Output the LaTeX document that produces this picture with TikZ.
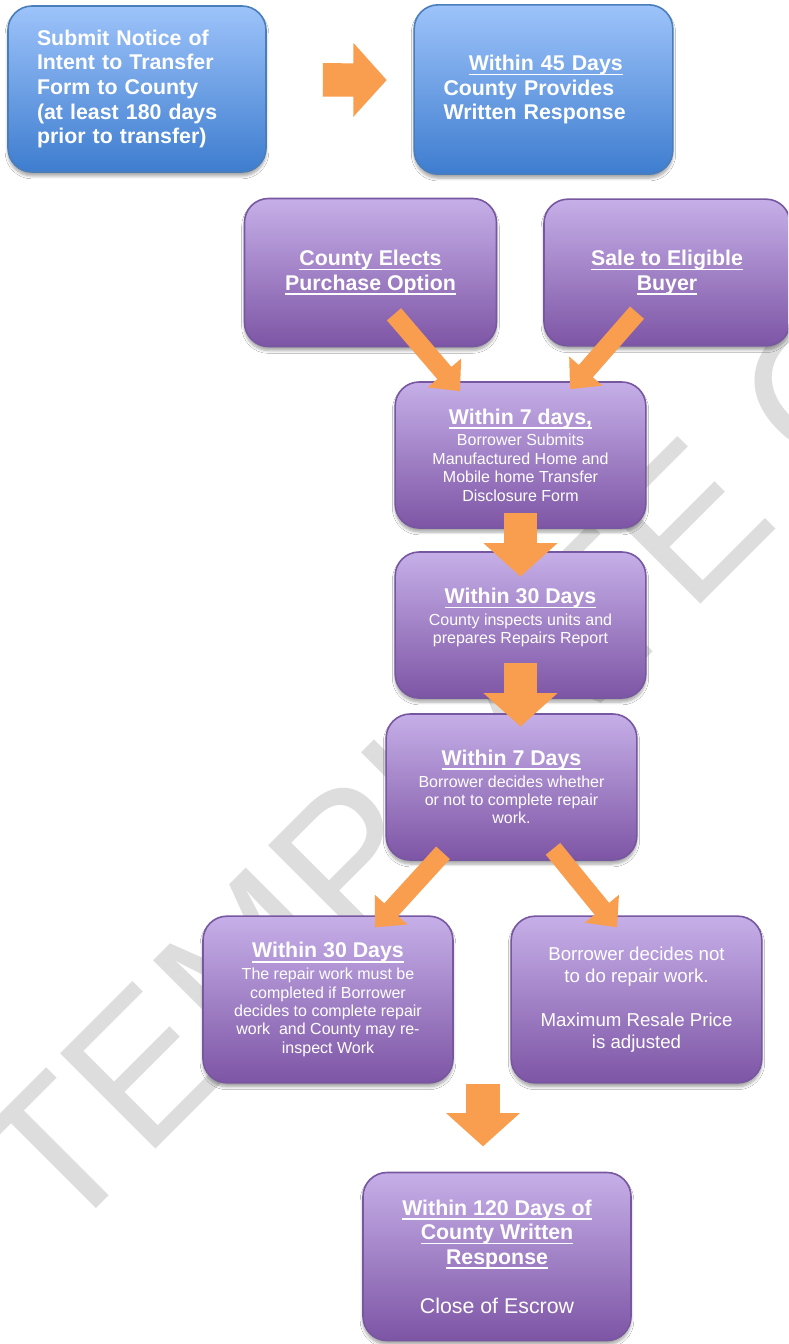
\documentclass[tikz,border=0pt]{standalone}
\usepackage{fontspec}
\setmainfont{Liberation Sans}
\usetikzlibrary{arrows.meta,shadows.blur}

\definecolor{blauHell}{HTML}{9DC3FA}
\definecolor{blauDunkel}{HTML}{3E7DCF}
\definecolor{blauRand}{HTML}{4A7EBB}
\definecolor{lilaHell}{HTML}{C6AFE8}
\definecolor{lilaDunkel}{HTML}{7D55A5}
\definecolor{lilaRand}{HTML}{7757A0}
\definecolor{orangePf}{HTML}{F99D4E}
\definecolor{wasserz}{HTML}{DDDDDD}

\newlength{\untbreite}
\newcommand{\unt}[1]{\settowidth{\untbreite}{#1}\rlap{\rule[-3.6pt]{\untbreite}{1.3pt}}#1}

\newcommand{\kopf}{\fontsize{16}{18.4}\selectfont\bfseries}
\newcommand{\klein}{\fontsize{12}{13.8}\selectfont}
\newcommand{\mittel}{\fontsize{14}{16.5}\selectfont}

\begin{document}
\begin{tikzpicture}[x=0.75pt, y=-0.75pt,
  kasten/.style={rounded corners=18pt, line width=1.2pt, text=white,
    blur shadow={shadow xshift=0pt, shadow yshift=-3pt, shadow opacity=35, shadow blur steps=6}},
  blau/.style={kasten, draw=blauRand, top color=blauHell, bottom color=blauDunkel,
    align=left, text width=150pt, inner xsep=0pt, font=\kopf},
  lila/.style={kasten, draw=lilaRand, top color=lilaHell, bottom color=lilaDunkel,
    align=center, font=\klein},
  dick/.style={draw=orangePf, line width=25pt, -{Triangle[width=54pt,length=25pt]}},
  schraeg/.style={draw=orangePf, line width=14pt, -{Triangle[width=32pt,length=18pt]}}]

\fill[white] (0,0) rectangle (788,1344);
\useasboundingbox (0,0) rectangle (788,1344);
\clip (0,0) rectangle (788,1344);

% Wasserzeichen
\node[anchor=base west, rotate=45, inner sep=0pt, text=wasserz,
  font=\fontsize{147}{150}\selectfont] (WZ) at (60,1245) {TEMPLATE C};

% oben: Antrag und Antwort
\node[blau, minimum width=193.5pt, minimum height=124.5pt] (Ntc) at (137,89)
  {Submit Notice of\\Intent to Transfer\\Form to County\\(at least 180 days\\prior to transfer)};
\node[blau, minimum width=194pt, minimum height=127pt] (Rsp) at (543.5,89.5)
  {\hspace*{19pt}\unt{Within 45 Days}\\County Provides\\Written Response};

% zwei Optionen
\node[lila, font=\kopf, minimum width=189pt, minimum height=111pt] (Pur) at (370.5,272.5)
  {\unt{County Elects}\\\unt{Purchase Option}};
\node[lila, font=\kopf, minimum width=184.5pt, minimum height=110pt] (Sal) at (667,272.5)
  {\unt{Sale to Eligible}\\\unt{Buyer}};

% Mittelspalte
\node[lila, minimum width=188pt, minimum height=109.5pt] (Dsc) at (520.5,455)
  {{\kopf\unt{Within 7 days,}}\\[2.5pt]Borrower Submits\\Manufactured Home and\\Mobile home Transfer\\Disclosure Form};
\node[lila, minimum width=188pt, minimum height=109.5pt] (Ins) at (520.5,625)
  {{\kopf\unt{Within 30 Days}}\\[2.5pt]County inspects units and\\prepares Repairs Report\\\mbox{}};
\node[lila, minimum width=188pt, minimum height=109.5pt] (Dec) at (511.5,787)
  {{\kopf\unt{Within 7 Days}}\\[2.5pt]Borrower decides whether\\or not to complete repair\\work.};

% Verzweigung
\node[lila, minimum width=187.5pt, minimum height=125pt] (Rep) at (328,999.5)
  {{\kopf\unt{Within 30 Days}}\\[2.5pt]The repair work must be\\completed if Borrower\\decides to complete repair\\work~ and County may re-\\inspect Work};
\node[lila, font=\mittel, minimum width=188pt, minimum height=125pt] (NoR) at (636.5,999.5)
  {Borrower decides not\\to do repair work.\\[16.5pt]Maximum Resale Price\\is adjusted};

% Abschluss
\node[lila, font=\kopf, minimum width=201pt, minimum height=126pt] (Esc) at (497,1256.5)
  {\unt{Within 120 Days of}\\\unt{County Written}\\\unt{Response}\\[18.4pt]{\mdseries Close of Escrow}};
\coordinate (Mitte) at (483,1084);

% Pfeile
\draw[dick, shorten <=42pt, shorten >=20pt] ([yshift=7pt]Ntc.east) -- ([yshift=7pt]Rsp.west);
\draw[schraeg] ([shift={(23.5,-33)}]Pur.south) -- ([shift={(-60.5,10)}]Dsc.north);
\draw[schraeg] ([shift={(-30,-34)}]Sal.south) -- ([shift={(49.5,8)}]Dsc.north);
\draw[dick] ([yshift=12pt]Dsc.south) -- ([yshift=-19pt]Ins.north);
\draw[dick] ([yshift=27pt]Ins.south) -- ([yshift=-10pt]Ins.south |- Dec.north);
\draw[schraeg] ([shift={(-68.5,-8)}]Dec.south) -- ([shift={(47,12)}]Rep.north);
\draw[schraeg] ([shift={(41.5,-12)}]Dec.south) -- ([shift={(-19.5,12)}]NoR.north);
\draw[dick, shorten >=19pt] (Mitte) -- (Mitte |- Esc.north);

\end{tikzpicture}
\end{document}
